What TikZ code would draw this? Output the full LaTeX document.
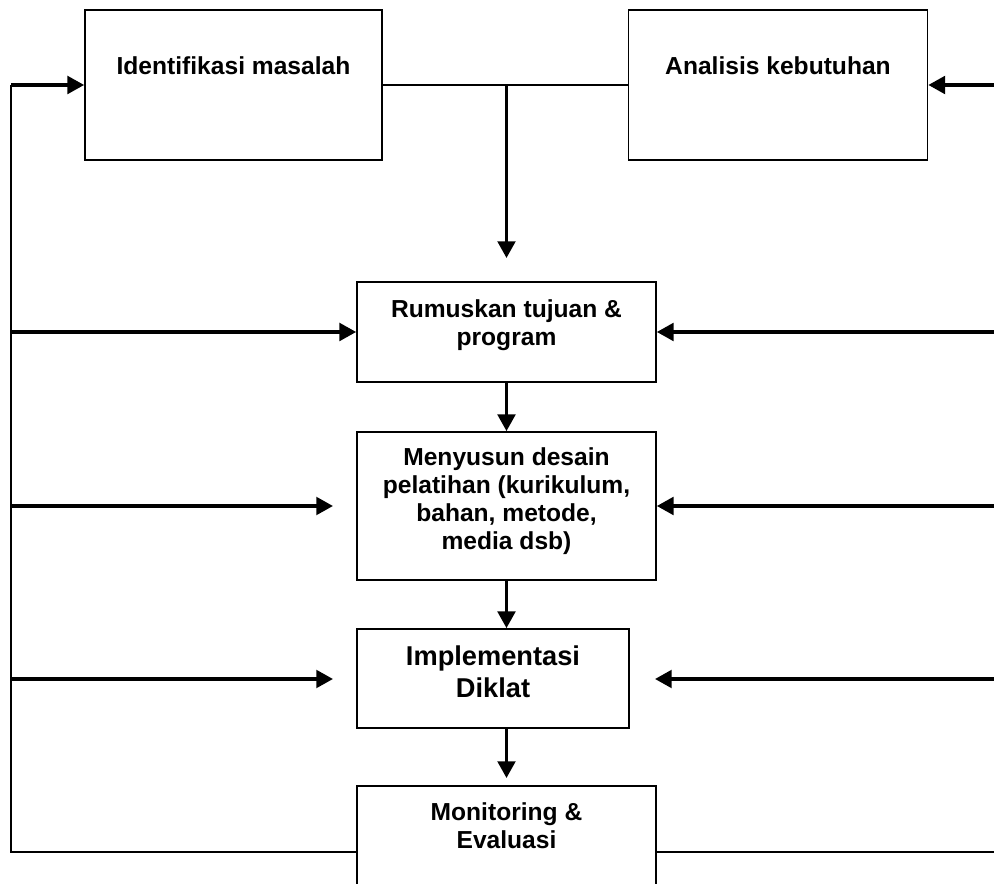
\documentclass[tikz,border=0pt]{standalone}
\usepackage{fontspec}
\setmainfont{Liberation Sans}
\usetikzlibrary{arrows.meta,calc,positioning}
\tikzset{
    box/.style={rectangle, draw, line width=1pt, minimum width=5.98cm, inner sep=0pt},
    lbl/.style={align=center, inner sep=0pt, font=\bfseries\fontsize{14}{16}\selectfont},
    biglbl/.style={lbl, font=\bfseries\fontsize{15.5}{18.1}\selectfont},
    arr/.style={draw, line width=1.9pt, -{Triangle[length=9.5pt,width=10pt]}},
    fb/.style={draw, line width=0.9pt}
}
\begin{document}
\begin{tikzpicture}[x=0.02cm, y=-0.02cm]
    \useasboundingbox (0,0) rectangle (994,884);
    % Nodes
    \node[box, minimum width=5.94cm, minimum height=3cm] (idm) at (233.5,85) {};
    \node[box, minimum height=3cm] (akb) at (778,85) {};
    \node[box, minimum height=2cm] (rum) at (506.5,332) {};
    \node[box, minimum height=2.96cm] (mds) at (506.5,506) {};
    \node[box, minimum width=5.44cm, minimum height=1.98cm] (imp) at (493,678.5) {};
    \node[box, minimum height=2.64cm] (mon) at (506.5,852) {};

    % labels
    \node[lbl] (idmtxt) at (233.5,65.5) {Identifikasi masalah};
    \node[lbl] (akbtxt) at (778,65.5) {Analisis kebutuhan};
    \node[lbl] (rumtxt) at (506.5,325) {Rumuskan tujuan \&\\ program};
    \node[lbl] (mdstxt) at (506.5,501) {Menyusun desain\\ pelatihan (kurikulum,\\ bahan, metode,\\ media dsb)};
    \node[biglbl] (imptxt) at (493,672) {Implementasi\\ Diklat};
    \node[lbl] (montxt) at (506.5,826) {Monitoring \&\\ Evaluasi};

    % points
    \coordinate (jn) at (506.5,85);
    \coordinate (jt) at (506.5,258);
    \coordinate (tl) at (11,85);
    \coordinate (bl) at (11,852);
    \coordinate (br) at (994,852);
    \coordinate (lb) at (11,332);
    \coordinate (lc) at (11,506);
    \coordinate (ld) at (11,679);
    \coordinate (lct) at (333,506);
    \coordinate (ldt) at (333,679);
    \coordinate (ra) at (994,85);
    \coordinate (rb) at (994,332);
    \coordinate (rc) at (994,506);
    \coordinate (rd) at (994,679);
    \coordinate (rdt) at (655,679);
    \coordinate (mt) at (506.5,778);

    % edges
    \draw[fb] (idm.east) -- (akb.west);
    \draw[arr] (jn) -- (jt);
    \draw[arr] (rum.south) -- (mds.north);
    \draw[arr] (mds.south) -- (mds.south |- imp.north);
    \draw[arr] (mds.south |- imp.south) -- (mt);
    \draw[fb] (mon.west) -- (bl) -- (tl);
    \draw[fb] (mon.east) -- (br);
    \draw[arr] (tl) -- (idm.west);
    \draw[arr] (lb) -- (rum.west);
    \draw[arr] (lc) -- (lct);
    \draw[arr] (ld) -- (ldt);
    \draw[arr] (ra) -- (akb.east);
    \draw[arr] (rb) -- (rum.east);
    \draw[arr] (rc) -- (mds.east);
    \draw[arr] (rd) -- (rdt);
\end{tikzpicture}
\end{document}
